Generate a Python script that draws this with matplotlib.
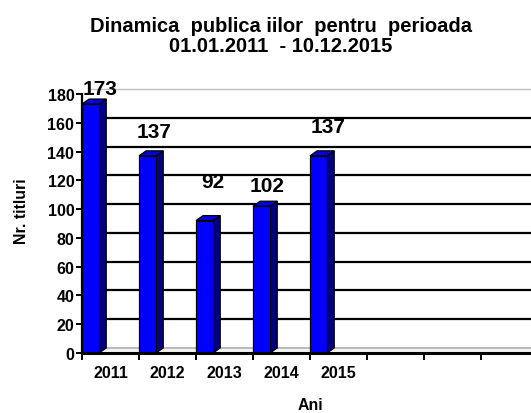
import matplotlib
matplotlib.use('Agg')
from matplotlib import pyplot as plt
from matplotlib.patches import Polygon

plt.rcParams['font.family'] = ['Liberation Sans', 'DejaVu Sans']
plt.rcParams['font.weight'] = 'bold'

# Date
ani = ['2011', '2012', '2013', '2014', '2015', '', '', '']
titluri = [173, 137, 92, 102, 137]
# pozitia etichetelor de valoare (dx fata de categorie, y in unitati)
eticheta_dx = [0.325, 0.26, 0.3, 0.25, 0.325]
eticheta_y = [183.5, 153.6, 119, 116.7, 157.4]

n_cat = len(ani)
w = 0.30              # latimea fetei din fata
dx, dy = 0.125, 3.5   # adancimea 3D in unitati de date

W, H = 531, 414
fig = plt.figure(figsize=(W / 100, H / 100), dpi=100)
ax = fig.add_axes([82 / W, 60 / H, 456 / W, 259 / H])
ax.set_xlim(0, n_cat)
ax.set_ylim(0, 180)

# peretele din spate - linii de grila
for v in range(20, 180, 20):
    ax.plot([dx, n_cat + dx], [v + dy, v + dy], color='black', lw=1.6,
            zorder=1, clip_on=False, solid_capstyle='butt')
ax.plot([dx, n_cat + dx], [180 + dy, 180 + dy], color='#c0c0c0', lw=1,
        zorder=1, clip_on=False)

# podeaua
floor = Polygon([(0, 0), (n_cat, 0), (n_cat + dx, dy), (dx, dy)],
                closed=True, facecolor='#f2f2f2', edgecolor='#a0a0a0',
                lw=1, zorder=1.5, clip_on=False)
ax.add_patch(floor)

# coloanele 3D
for i, v in enumerate(titluri):
    x0, x1 = i, i + w
    side = Polygon([(x1, 0), (x1 + dx, dy), (x1 + dx, v + dy), (x1, v)],
                   closed=True, facecolor='#000080', edgecolor='black',
                   lw=0.9, zorder=3, clip_on=False)
    top = Polygon([(x0, v), (x1, v), (x1 + dx, v + dy), (x0 + dx, v + dy)],
                  closed=True, facecolor='#0000e0', edgecolor='black',
                  lw=0.9, zorder=3, clip_on=False)
    ax.add_patch(side)
    ax.add_patch(top)
ax.bar(range(len(titluri)), titluri, width=w, align='edge', color='#0000ff',
       edgecolor='black', lw=0.9, zorder=3.5)

for i, v in enumerate(titluri):
    ax.text(i + eticheta_dx[i], eticheta_y[i], str(v), ha='center',
            va='center', fontsize=15, fontweight='bold', zorder=5)

# axe
for s in ['top', 'right']:
    ax.spines[s].set_visible(False)
ax.spines['left'].set_linewidth(1.6)
ax.spines['bottom'].set_linewidth(2.2)
ax.spines['left'].set_zorder(4)
ax.spines['bottom'].set_zorder(4)

ax.set_yticks(range(0, 181, 20))
ax.tick_params(axis='y', direction='out', length=4.5, width=1.4,
               labelsize=11.5, pad=1)
ax.set_xticks(range(0, n_cat + 1))
ax.set_xticklabels([])
ax.set_xticks([i + 0.5 for i in range(n_cat)], minor=True)
ax.set_xticklabels(ani, minor=True, fontsize=11.5, fontweight='bold')
ax.tick_params(axis='x', which='major', direction='out', length=5, width=1.4)
ax.tick_params(axis='x', which='minor', length=0, pad=9)
for lbl in ax.get_yticklabels():
    lbl.set_fontweight('bold')

fig.text(21 / W, 1 - 211 / H, 'Nr. titluri', rotation=90, ha='center',
         va='center', fontsize=11.4, fontweight='bold')
fig.text(310 / W, 1 - 406 / H, 'Ani', ha='center', va='center',
         fontsize=11.4, fontweight='bold')
fig.text(281 / W, 1 - 32 / H, 'Dinamica  publica iilor  pentru  perioada',
         ha='center', va='baseline', fontsize=14.5, fontweight='bold')
fig.text(281 / W, 1 - 52 / H, '01.01.2011  - 10.12.2015',
         ha='center', va='baseline', fontsize=14.5, fontweight='bold')

plt.savefig('out.png', dpi=100)
